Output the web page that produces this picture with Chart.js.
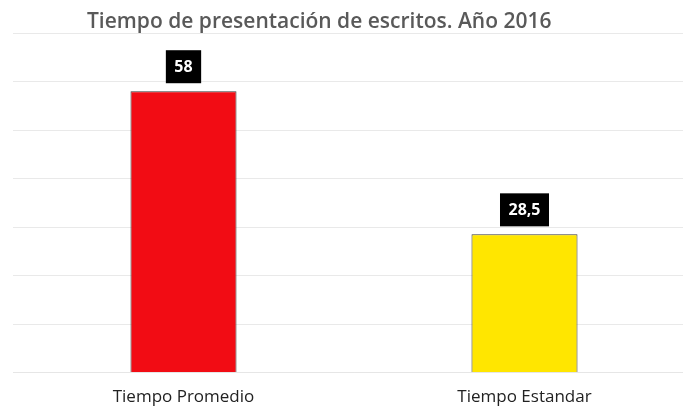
<!DOCTYPE html>
<html>
<head>
<meta charset="utf-8">
<script src="https://cdn.jsdelivr.net/npm/chart.js@4/dist/chart.umd.min.js"></script>
<style>
  html, body { margin: 0; padding: 0; background: #fff; overflow: hidden; }
  #wrap { position: relative; width: 700px; height: 408px; overflow: hidden; }
  #titulo {
    position: absolute; left: 87px; top: 6px;
    font-family: "Open Sans", "Noto Sans", sans-serif; font-weight: 600; font-size: 21px;
    color: #595959; white-space: nowrap;
  }
</style>
</head>
<body>
<div id="wrap">
  <canvas id="grafico" width="700" height="413"></canvas>
  <div id="titulo">Tiempo de presentación de escritos. Año 2016</div>
</div>
<script>
const categorias = ['Tiempo Promedio', 'Tiempo Estandar'];
const valores = [58, 28.5];
const colores = ['#f20c14', '#ffe600'];

// etiquetas negras sobre cada barra
const etiquetas = {
    id: 'etiquetas',
    afterDatasetsDraw(chart) {
        const ctx = chart.ctx;
        const meta = chart.getDatasetMeta(0);
        ctx.save();
        ctx.font = 'bold 16px "Open Sans", "Noto Sans", sans-serif';
        ctx.textAlign = 'center';
        ctx.textBaseline = 'middle';
        meta.data.forEach((bar, i) => {
            const texto = String(valores[i]).replace('.', ',');
            const w = ctx.measureText(texto).width + 17;
            const h = 33;
            const y = bar.y - 8 - h;
            ctx.fillStyle = '#000';
            ctx.fillRect(bar.x - w / 2, y, w, h);
            ctx.fillStyle = '#fff';
            ctx.fillText(texto, bar.x, y + h / 2 + 1);
        });
        ctx.restore();
    }
};

new Chart(document.getElementById('grafico'), {
    type: 'bar',
    data: {
        labels: categorias,
        datasets: [{
            data: valores,
            backgroundColor: colores,
            borderColor: '#3a3a3a',
            borderWidth: 1,
            barPercentage: 0.311,
            categoryPercentage: 1
        }]
    },
    options: {
        responsive: false,
        animation: false,
        layout: { padding: { left: 13, right: 5, top: 33, bottom: 0 } },
        plugins: {
            legend: { display: false },
            tooltip: { enabled: false }
        },
        scales: {
            x: {
                grid: { display: false },
                border: { color: '#e6e6e6' },
                ticks: {
                    color: '#222',
                    padding: 6,
                    font: { family: '"Open Sans", "Noto Sans", sans-serif', size: 17 }
                }
            },
            y: {
                min: 0,
                max: 70,
                ticks: { stepSize: 10, display: false },
                grid: { color: '#e9e9e9', drawTicks: false },
                border: { display: false }
            }
        }
    },
    plugins: [etiquetas]
});
</script>
</body>
</html>
